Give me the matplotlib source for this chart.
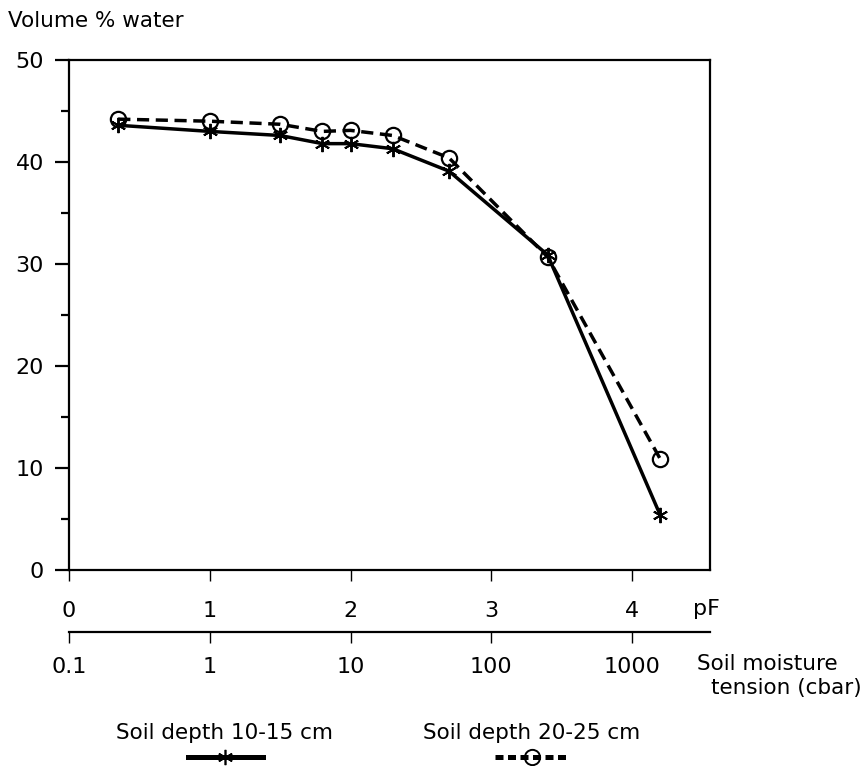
import matplotlib
matplotlib.use('Agg')
import matplotlib.pyplot as plt
from matplotlib.lines import Line2D

plt.rcParams['font.family'] = ['DejaVu Sans']

# ---- data ----
pF = [0.35, 1.0, 1.5, 1.8, 2.0, 2.3, 2.7, 3.4, 4.2]
water_10_15 = [43.6, 43.0, 42.6, 41.8, 41.8, 41.3, 39.1, 30.9, 5.4]
water_20_25 = [44.2, 44.0, 43.7, 43.0, 43.1, 42.6, 40.4, 30.7, 10.9]
pf_ticks = [0, 1, 2, 3, 4]
pf_labels = ['0', '1', '2', '3', '4']
tension_labels = ['0.1', '1', '10', '100', '1000']
y_ticks = [0, 10, 20, 30, 40, 50]
y_minor = [5, 15, 25, 35, 45]
label_a = 'Soil depth 10-15 cm'
label_b = 'Soil depth 20-25 cm'

W, H = 866, 766
fig = plt.figure(figsize=(W / 100, H / 100), dpi=100)
L, R, T, B = 69, 710, 60, 570
ax = fig.add_axes([L / W, 1 - B / H, (R - L) / W, (B - T) / H])

FS = 16
FT = 15.5
lw_spine = 1.6

ax.plot(pF, water_10_15, color='black', lw=2.5, marker=(6, 2, 0),
        ms=11, mew=1.4, zorder=3)
ax.plot(pF, water_20_25, color='black', lw=2.5, ls=(0, (3.5, 1.9)),
        marker='o', ms=11, mfc='none', mew=1.6, zorder=3)

ax.set_xlim(0, (R - L) / 140.75)
ax.set_ylim(0, 50)
ax.set_xticks(pf_ticks)
ax.set_xticklabels(pf_labels, fontsize=FS)
ax.set_yticks(y_ticks)
ax.set_yticks(y_minor, minor=True)
ax.tick_params(axis='y', which='major', direction='out', length=10,
               width=lw_spine, pad=8, labelsize=FS)
ax.tick_params(axis='y', which='minor', direction='out', length=5.5,
               width=lw_spine)
ax.tick_params(axis='x', which='major', direction='out', length=8,
               width=1.0, pad=14, labelsize=FS)
for s in ax.spines.values():
    s.set_linewidth(lw_spine)

fig.text(693 / W, 1 - 609 / H, 'pF', fontsize=FS, ha='left', va='center')

# lower tension axis
y2 = 1 - 632 / H
ax2 = fig.add_axes([L / W, y2, (R - L) / W, 0.0001])
ax2.set_xlim(ax.get_xlim())
ax2.set_yticks([])
for k in ['left', 'right', 'top']:
    ax2.spines[k].set_visible(False)
ax2.spines['bottom'].set_linewidth(lw_spine)
ax2.set_xticks(pf_ticks)
ax2.set_xticklabels(tension_labels, fontsize=FS)
ax2.tick_params(axis='x', direction='out', length=8, width=1.0, pad=10,
                labelsize=FS)
ax2.patch.set_visible(False)

fig.text(697 / W, 1 - 664 / H, 'Soil moisture', fontsize=FT,
         ha='left', va='center')
fig.text(862 / W, 1 - 688 / H, 'tension (cbar)', fontsize=FT,
         ha='right', va='center')

fig.text(8 / W, 1 - 27 / H, 'Volume % water', fontsize=FT,
         ha='left', va='baseline')

# legends: label above a line sample
h_a = Line2D([], [], color='black', lw=3.6, marker=(6, 2, 0), ms=11, mew=1.2)
h_b = Line2D([], [], color='black', lw=3.6, ls=(0, (1.6, 0.9)), marker='o',
             ms=11, mfc='none', mew=1.4)
for h, lab, cx in [(h_a, label_a, 225), (h_b, label_b, 532)]:
    leg = fig.legend(handles=[h], labels=[''], title=lab, frameon=False,
                     loc='center', bbox_to_anchor=(cx / W, 1 - 744 / H),
                     title_fontsize=FT, handlelength=5.4, handletextpad=0,
                     borderpad=0, labelspacing=0)
    leg._legend_box.sep = 6

fig.savefig('out.png', dpi=100)
